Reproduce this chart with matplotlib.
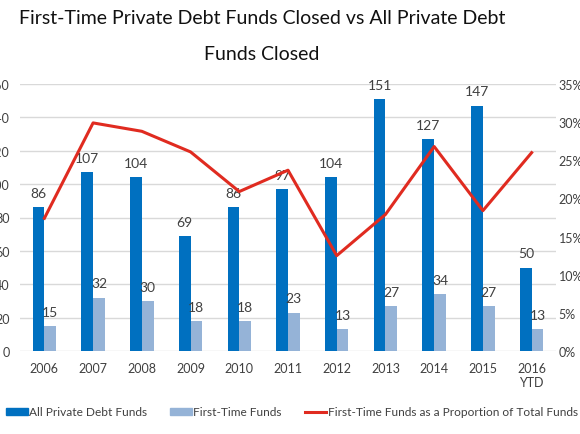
import numpy as np
import matplotlib
matplotlib.use("Agg")
import matplotlib.pyplot as plt
from matplotlib.patches import Patch
from matplotlib.lines import Line2D

plt.rcParams['font.family'] = ['Lato', 'DejaVu Sans']

years = ["2006", "2007", "2008", "2009", "2010", "2011", "2012", "2013", "2014", "2015", "2016\nYTD"]
all_funds = [86, 107, 104, 69, 86, 97, 104, 151, 127, 147, 50]
first_time = [15, 32, 30, 18, 18, 23, 13, 27, 34, 27, 13]
proportion = [17.4, 29.9, 28.8, 26.1, 20.9, 23.7, 12.5, 17.9, 26.8, 18.4, 26.0]

dark_blue = "#0070C0"
light_blue = "#95B3D7"
red = "#E02B20"
text_col = "#404040"

fig = plt.figure(figsize=(5.8, 4.35), dpi=100)
ax = fig.add_axes([20 / 580, 83 / 435, 536 / 580, 267 / 435])
ax2 = ax.twinx()

x = np.arange(len(years))
w = 0.24
b1 = ax.bar(x - w / 2, all_funds, w, color=dark_blue, zorder=3)
b2 = ax.bar(x + w / 2, first_time, w, color=light_blue, zorder=3)
ax.bar_label(b1, padding=6, fontsize=10, color=text_col)
ax.bar_label(b2, padding=6, fontsize=10, color=text_col)

ax2.plot(x, proportion, color=red, lw=2.2, zorder=4)

ax.set_xlim(-0.5, len(years) - 0.5)
ax.set_ylim(0, 160)
ax.set_yticks(range(0, 161, 20))
ax2.set_ylim(0, 35)
ax2.set_yticks(range(0, 36, 5))
ax2.set_yticklabels([f"{v}%" for v in range(0, 36, 5)])

ax.set_xticks(x)
ax.set_xticklabels(years)
ax.yaxis.grid(True, color="#D9D9D9", lw=1, zorder=0)
ax.set_axisbelow(True)

for a in (ax, ax2):
    for s in a.spines.values():
        s.set_visible(False)
    a.tick_params(length=0, labelsize=9, colors=text_col)
ax.tick_params(axis='y', pad=7.5)
ax.tick_params(axis='x', pad=8)
ax2.tick_params(axis='y', pad=2)

# keep the line above the bars
ax.set_zorder(1)
ax2.set_zorder(2)
ax.patch.set_visible(False)

fig.text(262 / 580, 1 - 19 / 435, "First-Time Private Debt Funds Closed vs All Private Debt",
         ha="center", va="center", fontsize=14, color="#111111")
fig.text(262 / 580, 1 - 55 / 435, "Funds Closed",
         ha="center", va="center", fontsize=14, color="#111111")

handles = [Patch(color=dark_blue), Patch(color=light_blue), Line2D([], [], color=red, lw=2.2)]
labels = ["All Private Debt Funds", "First-Time Funds", "First-Time Funds as a Proportion of Total Funds"]
fig.legend(handles, labels, loc="center left", bbox_to_anchor=(6 / 580, 1 - 413 / 435), ncol=3,
           frameon=False, fontsize=8.6, handlelength=1.8, handleheight=0.5, handletextpad=0.15,
           columnspacing=1.9, borderaxespad=0, borderpad=0, labelcolor=text_col)

fig.savefig("out.png", dpi=100)
